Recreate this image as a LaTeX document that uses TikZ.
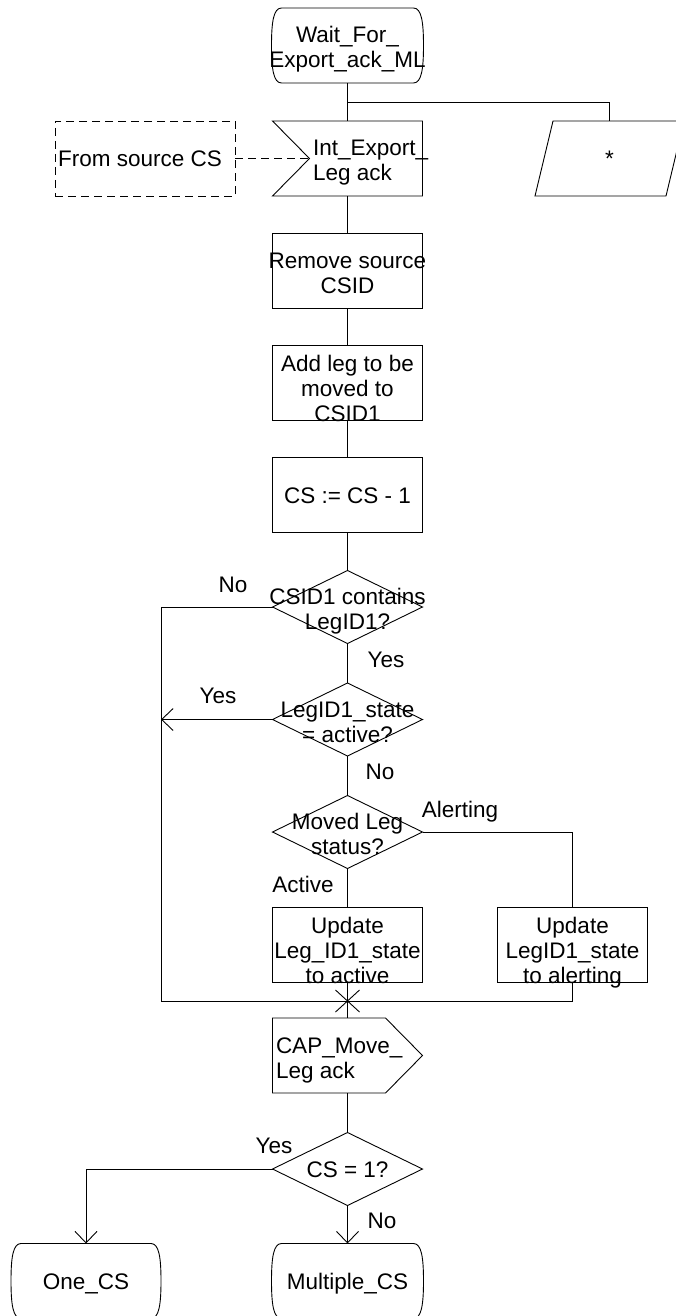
\documentclass[tikz,border=0pt]{standalone}
\usepackage{fontspec}
\setmainfont{Liberation Sans}
\usetikzlibrary{shapes.geometric,arrows.meta,calc}
\newcommand\statepath[1]{%
  \draw ($(#1.north west)+(9,0)$) -- ($(#1.north east)+(-9,0)$)
    .. controls ($(#1.north east)+(-1,0)$) and ($(#1.north east)+(1,14)$) .. ($(#1.east)+(1,0)$)
    .. controls ($(#1.south east)+(1,-14)$) and ($(#1.south east)+(-1,0)$) .. ($(#1.south east)+(-9,0)$)
    -- ($(#1.south west)+(9,0)$)
    .. controls ($(#1.south west)+(1,0)$) and ($(#1.south west)+(-1,-14)$) .. ($(#1.west)+(-1,0)$)
    .. controls ($(#1.north west)+(-1,14)$) and ($(#1.north west)+(1,0)$) .. ($(#1.north west)+(9,0)$) -- cycle;}
\begin{document}
\begin{tikzpicture}[x=1pt,y=-1pt,line width=0.9pt,
  frame/.style={minimum width=150pt,minimum height=75pt,inner sep=0pt,outer sep=0pt},
  box/.style={frame,draw},
  dec/.style={diamond,draw,minimum width=150pt,minimum height=73pt,inner sep=0pt,outer sep=0pt},
  txt/.style={inner sep=0pt,outer sep=0pt,align=center,font=\fontsize{22.5}{25}\selectfont},
  arr/.style={-{Straight Barb[length=11.5pt,width=22pt]}},
  dsh/.style={dash pattern=on 8pt off 5pt},
]
\useasboundingbox (0,0) rectangle (676,1316);

% shapes
\node[frame] (start) at (347.5,45.5) {};
\statepath{start}
\node[frame] (inp) at (347.5,158.5) {};
\coordinate (inpv) at ($(inp.west)+(37,0)$);
\draw (inp.north west) -- (inp.north east) -- (inp.south east) -- (inp.south west) -- (inpv) -- cycle;
\node[box,dsh,minimum width=180pt] (src) at (145,158.5) {};
\node[frame,minimum width=149pt] (par) at (609.5,158.5) {};
\draw ($(par.north west)+(18,0)$) -- (par.north east) -- ($(par.south east)+(-18,0)$) -- (par.south west) -- cycle;
\node[box] (remove) at (347.5,270.5) {};
\node[box] (add) at (347.5,382.5) {};
\node[box] (cs) at (347.5,494.5) {};
\node[dec] (d1) at (347.5,607) {};
\node[dec] (d2) at (347.5,719.5) {};
\node[dec] (d3) at (347.5,832) {};
\node[box] (upa) at (347.5,944.5) {};
\node[box] (upb) at (572.5,944.5) {};
\node[frame] (cap) at (347.5,1055.5) {};
\draw (cap.north west) -- ($(cap.north east)+(-37,0)$) -- (cap.east) -- ($(cap.south east)+(-37,0)$) -- (cap.south west) -- cycle;
\node[dec] (d4) at (347.5,1169) {};
\node[frame,minimum width=148pt] (one) at (86,1281) {};
\statepath{one}
\node[frame] (multi) at (347.5,1281) {};
\statepath{multi}

% connectors
\coordinate (br) at (347.5,102);
\coordinate (lc) at (161,1001);
\coordinate (mc) at (347.5,1001);
\draw (start.south) -- (inp.north);
\draw (br) -| (par.north);
\draw[dsh] (src.east) -- (inpv);
\draw (inp.south) -- (remove.north);
\draw (remove.south) -- (add.north);
\draw (add.south) -- (cs.north);
\draw (cs.south) -- (d1.north);
\draw (d1.south) -- (d2.north);
\draw (d2.south) -- (d3.north);
\draw (d3.south) -- (upa.north);
\draw (d3.east) -| (upb.north);
\draw (d1.west) -| (lc) -| (upb.south);
\draw[arr] (d2.west) -- (d2.west -| lc);
\draw (upa.south) -- (cap.north);
\draw ($(mc)+(-12,-11)$) -- ($(mc)+(12,11)$);
\draw ($(mc)+(-12,11)$) -- ($(mc)+(12,-11)$);
\draw (cap.south) -- (d4.north);
\draw[arr] (d4.west) -| (one.north);
\draw[arr] (d4.south) -- (multi.north);

% texts
\node[txt] (startt) at (347.5,50.5) {Wait\_For\_\strut\\Export\_ack\_ML\strut};
\node[txt,align=left,anchor=west] (inpt) at (313,163.5) {Int\_Export\_\strut\\Leg ack\strut};
\node[txt] (srct) at (140,162) {From source CS\strut};
\node[txt] (part) at (609.5,162) {*\strut};
\node[txt] (remt) at (347.5,275.5) {Remove source\strut\\CSID\strut};
\node[txt] (addt) at (347.5,391) {Add leg to be\strut\\moved to\strut\\CSID1\strut};
\node[txt] (cst) at (347.5,498) {CS := CS - 1\strut};
\node[txt] (d1t) at (347.5,612) {CSID1 contains\strut\\LegID1?\strut};
\node[txt] (d2t) at (347.5,724.5) {LegID1\_state\strut\\= active?\strut};
\node[txt] (d3t) at (347.5,837) {Moved Leg\strut\\status?\strut};
\node[txt] (upat) at (347.5,953) {Update\strut\\Leg\_ID1\_state\strut\\to active\strut};
\node[txt] (upbt) at (572.5,953) {Update\strut\\LegID1\_state\strut\\to alerting\strut};
\node[txt,align=left,anchor=west] (capt) at (276,1061) {CAP\_Move\_\strut\\Leg ack\strut};
\node[txt] (d4t) at (347.5,1172.5) {CS = 1?\strut};
\node[txt] (onet) at (86,1284.5) {One\_CS\strut};
\node[txt] (multt) at (347.5,1284.5) {Multiple\_CS\strut};

% labels
\node[txt,anchor=base] (l1) at (233,592) {No};
\node[txt,anchor=base] (l2) at (386,667) {Yes};
\node[txt,anchor=base] (l3) at (218,703) {Yes};
\node[txt,anchor=base] (l4) at (380,779) {No};
\node[txt,anchor=base] (l5) at (460,817) {Alerting};
\node[txt,anchor=base] (l6) at (303,892) {Active};
\node[txt,anchor=base] (l7) at (274,1153) {Yes};
\node[txt,anchor=base] (l8) at (382,1228) {No};
\end{tikzpicture}
\end{document}
